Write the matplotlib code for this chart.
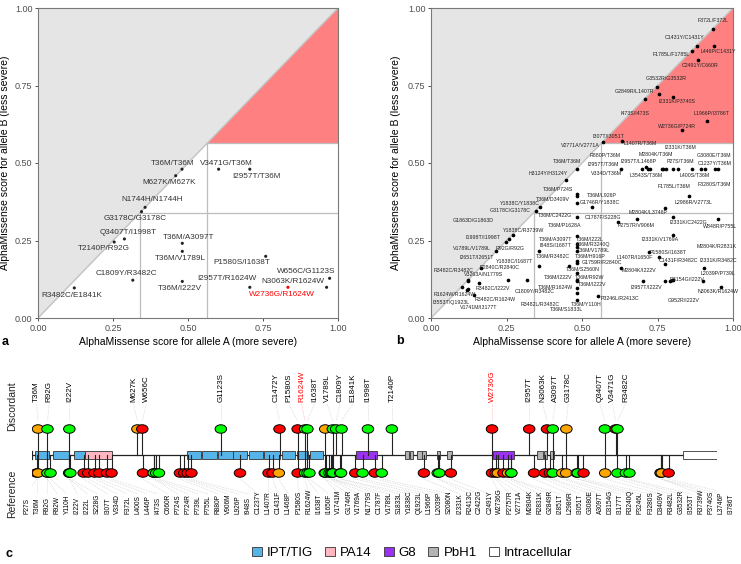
import re
import numpy as np
import matplotlib
matplotlib.use("Agg")
import matplotlib.pyplot as plt
from matplotlib.patches import Rectangle, Ellipse, Patch

plt.rcParams["font.family"] = ["Liberation Sans", "DejaVu Sans"]

# ---------------- data ----------------
BENIGN_CUT = 0.34
PATHO_CUT = 0.564

# panel a: discordant pairs (allele A score, allele B score)
a_labels = ["T36M/T36M", "V3471G/T36M", "I2957T/T36M", "M627K/M627K", "N1744H/N1744H",
            "G3178C/G3178C", "Q3407T/I1998T", "T2140P/R92G", "T36M/A3097T", "T36M/V1789L",
            "C1809Y/R3482C", "T36M/I222V", "R3482C/E1841K", "P1580S/I1638T", "I2957T/R1624W",
            "W2736G/R1624W", "N3063K/R1624W", "W656C/G1123S"]
a_x = [0.480, 0.602, 0.706, 0.459, 0.357, 0.345, 0.288, 0.254, 0.481, 0.481,
       0.316, 0.481, 0.121, 0.759, 0.706, 0.833, 0.962, 0.972]
a_y = [0.480, 0.480, 0.480, 0.459, 0.357, 0.343, 0.255, 0.245, 0.241, 0.215,
       0.122, 0.118, 0.097, 0.199, 0.099, 0.099, 0.099, 0.128]
a_highlight = "W2736G/R1624W"
# label anchors (layout)
a_lab_xy = [(0.448, 0.499), (0.627, 0.499), (0.727, 0.458), (0.438, 0.437), (0.380, 0.383),
            (0.323, 0.322), (0.301, 0.276), (0.218, 0.223), (0.502, 0.260), (0.473, 0.193),
            (0.296, 0.144), (0.473, 0.096), (0.112, 0.074), (0.681, 0.178), (0.631, 0.126),
            (0.812, 0.077), (0.851, 0.119), (0.893, 0.151)]

# panel b: reference pairs
b_x = [0.933, 0.880, 0.937, 0.863, 0.883, 0.747, 0.755, 0.710, 0.801, 0.913, 0.832,
       0.571, 0.631,
       0.482, 0.628, 0.700, 0.712, 0.720, 0.725, 0.764, 0.769, 0.778, 0.800, 0.819,
       0.863, 0.894, 0.907, 0.940, 0.951, 0.447,
       0.482, 0.482, 0.855, 0.482, 0.533, 0.361, 0.347, 0.775, 0.482, 0.683, 0.620,
       0.802, 0.949,
       0.270, 0.259, 0.248, 0.216, 0.165, 0.124, 0.124, 0.104, 0.121, 0.118, 0.143,
       0.160, 0.254, 0.319, 0.359, 0.359,
       0.482, 0.482, 0.482, 0.482, 0.482, 0.482, 0.482, 0.482, 0.482, 0.482, 0.482, 0.482,
       0.457, 0.554, 0.629, 0.723, 0.756, 0.775, 0.800, 0.703, 0.775, 0.791, 0.797,
       0.800, 0.900, 0.905, 0.960]
b_y = [0.931, 0.878, 0.878, 0.862, 0.832, 0.744, 0.722, 0.707, 0.713, 0.637, 0.605,
       0.569, 0.572,
       0.480, 0.480, 0.480, 0.486, 0.480, 0.480, 0.480, 0.480, 0.480, 0.480, 0.480,
       0.480, 0.480, 0.480, 0.480, 0.480, 0.444,
       0.400, 0.394, 0.394, 0.372, 0.357, 0.357, 0.345, 0.354, 0.327, 0.319, 0.311,
       0.327, 0.320,
       0.268, 0.255, 0.244, 0.216, 0.162, 0.124, 0.118, 0.099, 0.094, 0.089, 0.074,
       0.112, 0.123, 0.123, 0.217, 0.168,
       0.265, 0.240, 0.229, 0.217, 0.185, 0.178, 0.145, 0.123, 0.118, 0.097, 0.082, 0.058,
       0.168, 0.072, 0.162, 0.212, 0.198, 0.174, 0.268, 0.119, 0.119, 0.119, 0.121,
       0.121, 0.119, 0.160, 0.099]
b_labels = [
    ("F372L/F372L", 0.935, 0.959), ("C1431Y/C1431Y", 0.839, 0.904), ("L446P/C1431Y", 0.951, 0.859),
    ("F1785L/F1785L", 0.797, 0.851), ("C2491Y/C660R", 0.891, 0.816), ("G3532R/G3532R", 0.780, 0.771),
    ("G2849R/L1407R", 0.675, 0.730), ("I2331K/P3740S", 0.814, 0.698), ("I473S/I473S", 0.675, 0.660),
    ("L1966P/I3786T", 0.929, 0.660), ("W2736G/P724R", 0.814, 0.619), ("I307T/I3051T", 0.587, 0.585),
    ("V2771A/V2771A", 0.493, 0.558), ("L1407R/T36M", 0.692, 0.563), ("I2331K/T36M", 0.825, 0.549),
    ("R880P/T36M", 0.576, 0.523), ("M2804K/T36M", 0.745, 0.526), ("G3080E/T36M", 0.938, 0.523),
    ("T36M/T36M", 0.451, 0.504), ("I2957T/T36M", 0.571, 0.494), ("I2957T/L1468P", 0.686, 0.504),
    ("P27S/T36M", 0.825, 0.504), ("C1237Y/T36M", 0.938, 0.497), ("H3124Y/H3124Y", 0.389, 0.467),
    ("V334D/T36M", 0.582, 0.467), ("L3543S/T36M", 0.714, 0.459), ("L400S/T36M", 0.874, 0.459),
    ("F3280S/T36M", 0.938, 0.431), ("F1785L/T36M", 0.805, 0.424), ("T36M/P724S", 0.422, 0.415),
    ("T36M/L926P", 0.565, 0.394), ("T36M/D3409V", 0.405, 0.383), ("G1746R/Y1838C", 0.560, 0.372),
    ("L2986R/V2773L", 0.869, 0.372), ("Y1838C/Y1838C", 0.295, 0.368), ("G3178C/G3178C", 0.262, 0.348),
    ("T36M/C2422G", 0.411, 0.330), ("M2804K/L3746P", 0.720, 0.340), ("C1787F/S228G", 0.571, 0.325),
    ("G1863D/G1863D", 0.140, 0.316), ("I2331K/C2422G", 0.852, 0.307), ("P2757R/V906M", 0.678, 0.297),
    ("W848R/P755L", 0.957, 0.295), ("T36M/P1628A", 0.444, 0.297), ("Y1838C/R3739W", 0.308, 0.282),
    ("I1998T/I1998T", 0.171, 0.260), ("T36M/A3097T", 0.411, 0.254), ("T36M/I222L", 0.526, 0.254),
    ("I848S/I1687T", 0.411, 0.233), ("T36M/R3240Q", 0.537, 0.238), ("V1789L/V1789L", 0.135, 0.223),
    ("R92G/R92G", 0.262, 0.223), ("T36M/V1789L", 0.537, 0.219), ("I2331K/V1769A", 0.758, 0.252),
    ("M2804K/R2831K", 0.946, 0.230), ("I2651T/I2651T", 0.151, 0.195), ("T36M/R3482C", 0.403, 0.200),
    ("T36M/H916P", 0.526, 0.200), ("P1580S/I1638T", 0.786, 0.212), ("L1407R/I1650F", 0.675, 0.195),
    ("Y1838C/I1687T", 0.278, 0.182), ("G1759R/R2840C", 0.567, 0.180), ("C1431F/R3482C", 0.819, 0.187),
    ("I2331K/R3482C", 0.951, 0.184), ("R3482C/R3482C", 0.074, 0.153), ("R2840C/R2840C", 0.228, 0.162),
    ("T36M/S2560N", 0.501, 0.158), ("M2804K/I222V", 0.690, 0.152), ("L2039P/P739L", 0.951, 0.142),
    ("V3263A/N1779S", 0.173, 0.139), ("T36M/I222V", 0.420, 0.131), ("T36M/R92W", 0.526, 0.131),
    ("D3154G/I222V", 0.847, 0.123), ("T36M/I222V", 0.532, 0.109), ("R3482C/I222V", 0.206, 0.096),
    ("I2957T/I222V", 0.712, 0.099), ("T36M/R1624W", 0.411, 0.099), ("C1809Y/R3482C", 0.342, 0.085),
    ("N3063K/R1624W", 0.951, 0.085), ("R1624W/R1624W", 0.079, 0.076), ("R3482C/R1624W", 0.212, 0.061),
    ("P3246L/R2413C", 0.624, 0.062), ("I3553T/Q1923L", 0.068, 0.051), ("G952R/I222V", 0.836, 0.056),
    ("R3482L/R3482C", 0.361, 0.042), ("T36M/Y110H", 0.513, 0.045), ("V1741M/I3177T", 0.157, 0.033),
    ("T36M/S1833L", 0.449, 0.029),
]

# panel c: protein and variants
PROTEIN_LEN = 4074
domains = {
    "IPT/TIG": [(18, 103), (127, 220), (250, 315), (924, 1003), (1013, 1102), (1108, 1197),
                (1197, 1280), (1292, 1376), (1382, 1475), (1485, 1564), (1574, 1643), (1653, 1733)],
    "PA14": [(315, 478)],
    "G8": [(1927, 2052), (2743, 2866)],
    "PbH1": [(2218, 2244), (2248, 2268), (2288, 2318), (2321, 2343), (2407, 2427), (2466, 2496),
             (3005, 3041), (3045, 3061), (3081, 3106)],
    "Intracellular": [(3873, 4074)],
}
domain_colors = {"IPT/TIG": "#56b4e9", "PA14": "#ffb6c1", "G8": "#9a32ee",
                 "PbH1": "#b3b3b3", "Intracellular": "#ffffff"}

disc_names = ["T36M", "R92G", "I222V", "M627K", "W656C", "G1123S", "C1472Y", "P1580S", "R1624W",
              "I1638T", "N1744H", "V1789L", "C1809Y", "E1841K", "I1998T", "T2140P", "W2736G",
              "I2957T", "N3063K", "A3097T", "G3178C", "Q3407T", "V3471G", "R3482C"]
disc_class = ["amb", "ben", "ben", "amb", "path", "ben", "path", "path", "ben",
              "ben", "amb", "ben", "ben", "ben", "ben", "ben", "path",
              "path", "path", "ben", "amb", "ben", "path", "ben"]
disc_unlabeled = ["N1744H"]
highlight = ["R1624W", "W2736G"]

ref_names = ["P27S", "T36M", "R92G", "R92W", "Y110H", "I222V", "I222L", "S228G", "I307T", "V334D",
             "F372L", "L400S", "L446P", "I473S", "C660R", "P724S", "P724R", "P739L", "P755L",
             "R880P", "V906M", "L926P", "I948S", "C1237Y", "L1407R", "C1431F", "L1468P", "P1580S",
             "R1624W", "I1638T", "I1650F", "V1741M", "G1746R", "V1769A", "N1779S", "C1787F",
             "V1789L", "S1833L", "Y1838C", "Q1923L", "L1966P", "L2039P", "S2080N", "I2331K",
             "R2413C", "C2422G", "C2491Y", "W2736G", "P2757R", "V2771A", "M2804K", "R2831K",
             "G2849R", "I2851T", "L2986R", "I3051T", "G3080E", "A3097T", "D3154G", "I3177T",
             "R3240Q", "P3246L", "F3280S", "D3409V", "R3482L", "G3532R", "I3553T", "R3739W",
             "P3740S", "L3746P", "I3786T"]
ref_class = ["path", "amb", "ben", "ben", "ben", "ben", "ben", "ben", "path", "path",
             "path", "path", "path", "path", "path", "ben", "ben", "ben", "ben",
             "path", "path", "path", "path", "path", "path", "path", "amb", "path",
             "ben", "ben", "ben", "amb", "ben", "ben", "ben", "amb",
             "ben", "ben", "ben", "path", "ben", "path", "ben", "path",
             "ben", "ben", "path", "path", "path", "amb", "path", "amb",
             "path", "ben", "path", "path", "path", "ben", "amb", "amb",
             "amb", "ben", "path", "amb", "ben", "ben", "ben", "amb",
             "amb", "amb", "path"]
class_colors = {"path": "#ff0000", "amb": "#ffa500", "ben": "#00ff00"}


def aa_pos(name):
    return int(re.sub(r"\D", "", name))


def spread(xs, gap):
    # push label positions apart so neighbours keep a minimum gap
    order = np.argsort(xs)
    vals = np.array(xs, dtype=float)[order]
    for _ in range(500):
        moved = False
        for i in range(1, len(vals)):
            d = vals[i] - vals[i - 1]
            if d < gap - 1e-6:
                s = (gap - d) / 2
                vals[i - 1] -= s
                vals[i] += s
                moved = True
        if not moved:
            break
    out = np.empty_like(vals)
    out[order] = vals
    return out


def style_scatter_axes(ax):
    ax.fill_between([0, 1], [0, 1], [1, 1], color="#e5e5e5", lw=0, zorder=0)
    ax.fill([PATHO_CUT, 1, 1], [PATHO_CUT, 1, PATHO_CUT], color="#ff8080", lw=0, zorder=0)
    ax.plot([0, 1], [0, 1], color="#c4c4c4", lw=1.0, zorder=1)
    gl = dict(color="#bdbdbd", lw=0.9, zorder=1)
    ax.plot([BENIGN_CUT, BENIGN_CUT], [0, BENIGN_CUT], **gl)
    ax.plot([BENIGN_CUT, 1], [BENIGN_CUT, BENIGN_CUT], **gl)
    ax.plot([PATHO_CUT, PATHO_CUT], [0, PATHO_CUT], **gl)
    ax.plot([PATHO_CUT, 1], [PATHO_CUT, PATHO_CUT], **gl)
    ax.set_xlim(0, 1)
    ax.set_ylim(0, 1)
    ticks = [0, 0.25, 0.5, 0.75, 1.0]
    ax.set_xticks(ticks)
    ax.set_yticks(ticks)
    ax.set_xticklabels(["%.2f" % t for t in ticks])
    ax.set_yticklabels(["%.2f" % t for t in ticks])
    ax.tick_params(length=2.5, width=0.6, color="#333333", labelcolor="#4d4d4d",
                   labelsize=6.5, pad=1.5)
    for sp in ax.spines.values():
        sp.set_color("#7a7a7a")
        sp.set_linewidth(0.8)
    ax.set_xlabel("AlphaMissense score for allele A (more severe)", fontsize=7.5)
    ax.set_ylabel("AlphaMissense score for allele B (less severe)", fontsize=7.5)


W, H = 741, 564
fig = plt.figure(figsize=(W / 100, H / 100), dpi=100)

# ---------------- panel a ----------------
ax_a = fig.add_axes([38 / W, (H - 318) / H, 300 / W, 310 / H])
style_scatter_axes(ax_a)
ax_a.xaxis.set_label_coords(0.5, -0.062)
ax_a.yaxis.set_label_coords(-0.092, 0.5)
a_col = ["#ff0000" if l == a_highlight else "#222222" for l in a_labels]
ax_a.scatter(a_x, a_y, s=5, c=a_col, lw=0, zorder=3)
for lab, (lx, ly), c in zip(a_labels, a_lab_xy, a_col):
    ax_a.text(lx, ly, lab, fontsize=5.9, color="#ff0000" if c == "#ff0000" else "#333333",
              ha="center", va="center", zorder=4)

# ---------------- panel b ----------------
ax_b = fig.add_axes([431 / W, (H - 318) / H, 302 / W, 310 / H])
style_scatter_axes(ax_b)
ax_b.xaxis.set_label_coords(0.5, -0.062)
ax_b.yaxis.set_label_coords(-0.1, 0.5)
ax_b.scatter(b_x, b_y, s=7, c="black", lw=0, zorder=3)
for lab, lx, ly in b_labels:
    ax_b.text(lx, ly, lab, fontsize=3.8, color="#222222", ha="center", va="center", zorder=4)

fig.text(2 / W, 1 - 342 / H, "a", fontsize=9, fontweight="bold", va="center")
fig.text(396 / W, 1 - 341 / H, "b", fontsize=9, fontweight="bold", va="center")
fig.text(5 / W, 1 - 554 / H, "c", fontsize=9, fontweight="bold", va="center")

# ---------------- panel c ----------------
ax_c = fig.add_axes([32 / W, (H - 545) / H, 685 / W, 185 / H])
ax_c.set_xlim(0, PROTEIN_LEN)
ax_c.set_ylim(545, 360)
ax_c.axis("off")
px = PROTEIN_LEN / 685.0  # aa per pixel

Y_LINE, Y_DISC, Y_REF = 454.7, 429.0, 473.0
ELL_W, ELL_H = 11.5 * px, 8.5

ax_c.plot([0, PROTEIN_LEN], [Y_LINE, Y_LINE], color="#222222", lw=0.9, zorder=1)
ax_c.plot([0, 0], [451, 458.5], color="#222222", lw=0.9, zorder=1)
for dname, spans in domains.items():
    for s, e in spans:
        ax_c.add_patch(Rectangle((s, 451), e - s, 7.5, facecolor=domain_colors[dname],
                                 edgecolor="#333333", lw=0.6, zorder=2))

# discordant (top)
disc_pos = np.array([aa_pos(n) for n in disc_names])
for p in disc_pos:
    ax_c.plot([p, p], [Y_DISC, Y_LINE], color="#222222", lw=0.8, zorder=3)
for p, c in zip(disc_pos, disc_class):
    ax_c.add_patch(Ellipse((p, Y_DISC), ELL_W, ELL_H, facecolor=class_colors[c],
                           edgecolor="black", lw=0.7, zorder=4))
lab_idx = [i for i, n in enumerate(disc_names) if n not in disc_unlabeled]
lab_x = spread(disc_pos[lab_idx], 12.8 * px)
for i, lx in zip(lab_idx, lab_x):
    col = "#ff0000" if disc_names[i] in highlight else "black"
    lcol = "#ff9999" if disc_names[i] in highlight else "#c8c8c8"
    ax_c.plot([lx, disc_pos[i]], [404, 421], color=lcol, lw=0.5, ls=(0, (1, 1.5)), zorder=0)
    ax_c.text(lx, 401.5, disc_names[i], rotation=90, fontsize=5.8, color=col,
              ha="center", va="bottom", clip_on=False)

# reference (bottom)
ref_pos = np.array([aa_pos(n) for n in ref_names])
for p in ref_pos:
    ax_c.plot([p, p], [Y_LINE, Y_REF], color="#222222", lw=0.8, zorder=3)
for p, c in zip(ref_pos, ref_class):
    ax_c.add_patch(Ellipse((p, Y_REF), ELL_W, ELL_H, facecolor=class_colors[c],
                           edgecolor="black", lw=0.7, zorder=4))
ref_lab_x = np.linspace((27 - 32) * px, (731 - 32) * px, len(ref_names))
for n, p, lx in zip(ref_names, ref_pos, ref_lab_x):
    ax_c.plot([p, lx], [479, 494], color="#c8c8c8", lw=0.5, ls=(0, (1, 1.5)), zorder=0)
    ax_c.text(lx, 514, n, rotation=90, fontsize=4.7, color="black",
              ha="center", va="bottom", clip_on=False)

ax_c.text(-20 * px, 406, "Discordant", rotation=90, fontsize=7.5, ha="center", va="center",
          color="#222222", clip_on=False)
ax_c.text(-20 * px, 494, "Reference", rotation=90, fontsize=7.5, ha="center", va="center",
          color="#222222", clip_on=False)

handles = [Patch(facecolor=domain_colors[d], edgecolor="#333333", lw=0.6, label=d) for d in domains]
fig.legend(handles=handles, loc="center", bbox_to_anchor=(412 / W, 1 - 553 / H), ncol=5,
           frameon=False, fontsize=9.5, handlelength=0.75, handleheight=0.75,
           handletextpad=0.4, columnspacing=0.9, borderpad=0)

fig.savefig("out.png", dpi=100)
